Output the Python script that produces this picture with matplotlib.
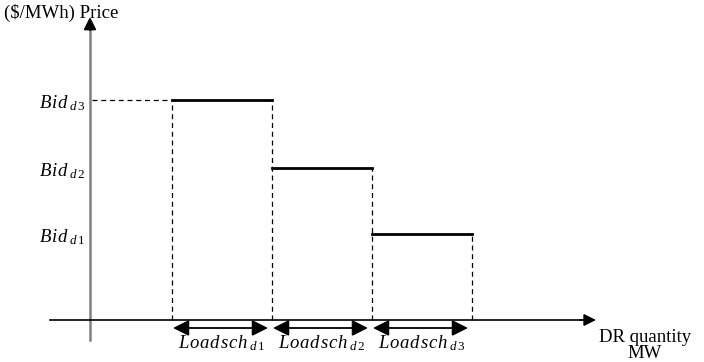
import numpy as np
import matplotlib.pyplot as plt

plt.rcParams['mathtext.fontset'] = 'custom'
plt.rcParams['mathtext.rm'] = 'Liberation Serif'
plt.rcParams['mathtext.it'] = 'Liberation Serif:italic'

# step bid curve (price vs DR quantity), arbitrary units
q_breaks = [82, 182, 282, 382]       # quantity boundaries of each block
bids = [220, 152, 86]                # Bid_d3, Bid_d2, Bid_d1 (price levels)
bid_subs = ['d3', 'd2', 'd1']
load_subs = ['d1', 'd2', 'd3']


def spaced(word, sub, gap=0.06):
    # italic word with a bit of letter spacing and a detached subscript
    w = (r'\hspace{%s}' % gap).join(word)
    s = r'\hspace{0.15}'.join(sub)
    return r'$%s_{\hspace{0.35}%s}$' % (w, s)


fig = plt.figure(figsize=(7.04, 3.62), dpi=100)
ax = fig.add_axes([0, 0, 1, 1])
ax.set_xlim(-90, 614)
ax.set_ylim(-42, 320)
ax.axis('off')

# axes
ax.plot([0, 0], [-20, 294], color='gray', lw=1.8)
ax.annotate('', xy=(0, 303), xytext=(0, 290),
            arrowprops=dict(arrowstyle='-|>', color='black', lw=1.5,
                            mutation_scale=18, shrinkA=0, shrinkB=0))
ax.plot([-40, 492], [0, 0], color='black', lw=1.2)
ax.annotate('', xy=(506, 0), xytext=(490, 0),
            arrowprops=dict(arrowstyle='-|>', color='black', lw=1.2,
                            mutation_scale=18, shrinkA=0, shrinkB=0))

# steps
dash = (0, (4, 3))
for i, b in enumerate(bids):
    ax.plot([q_breaks[i], q_breaks[i + 1]], [b, b], color='black', lw=2)
    ax.plot([q_breaks[i + 1], q_breaks[i + 1]], [0, b], color='black',
            lw=0.9, ls=dash)
ax.plot([q_breaks[0], q_breaks[0]], [0, bids[0]], color='black', lw=0.9, ls=dash)
ax.plot([2, q_breaks[0]], [bids[0], bids[0]], color='black', lw=0.9, ls=dash)

# bid labels
for b, sub in zip(bids, bid_subs):
    ax.text(-4, b - 3, spaced('Bid', sub), ha='right', va='center', fontsize=13.5)

# quantity arrows and labels
for i, sub in enumerate(load_subs):
    x0, x1 = q_breaks[i], q_breaks[i + 1]
    ax.annotate('', xy=(x1 - 4, -8), xytext=(x0 + 1, -8),
                arrowprops=dict(arrowstyle='<|-|>', color='black', lw=1.3,
                                mutation_scale=24, shrinkA=0, shrinkB=0))
    ax.text((x0 + x1) / 2, -23, spaced('Loadsch', sub), ha='center',
            va='center', fontsize=13.5)

ax.text(-86, 307, '($/MWh) Price', ha='left', va='center', fontsize=13.5,
        family='Liberation Serif')
ax.text(555, -22, 'DR quantity', ha='center', va='baseline', fontsize=13.5,
        family='Liberation Serif')
ax.text(555, -38.5, 'MW', ha='center', va='baseline', fontsize=13.5,
        family='Liberation Serif')

fig.savefig('out.png', dpi=100)
